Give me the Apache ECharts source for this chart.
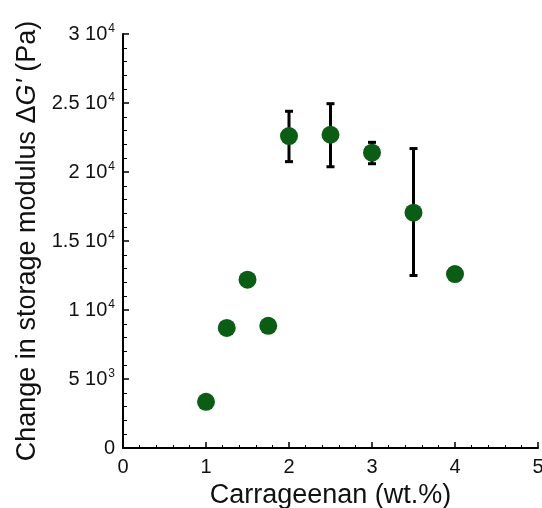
<!DOCTYPE html>
<html>
<head>
<meta charset="utf-8">
<script src="https://cdn.jsdelivr.net/npm/echarts@6/dist/echarts.min.js"></script>
<style>
  html, body { margin: 0; padding: 0; background: #fff; }
  #chart { width: 542px; height: 508px; }
</style>
</head>
<body>
<div id="chart"></div>
<script>
// carrageenan concentration (wt.%) and change in storage modulus (Pa)
const carrageenan = [1, 1.25, 1.5, 1.75, 2, 2.5, 3, 3.5, 4];
const deltaG = [3350, 8700, 12200, 8850, 22600, 22700, 21400, 17050, 12600];
// error bars — only some points have them
const errLow = [null, null, null, null, 20750, 20380, 20600, 12500, null];
const errHigh = [null, null, null, null, 24400, 24950, 22150, 21700, null];

const GREEN = "#0a5e14";
const FONT = "Liberation Sans, Arial, sans-serif";

const points = carrageenan.map((x, i) => [x, deltaG[i]]);
const errData = [];
carrageenan.forEach((x, i) => {
  if (errLow[i] != null) errData.push([x, errLow[i], errHigh[i]]);
});

const yLabels = {
  0: "{n|0}",
  5000: "{n|5 10}{s|3}",
  10000: "{n|1 10}{s|4}",
  15000: "{n|1.5 10}{s|4}",
  20000: "{n|2 10}{s|4}",
  25000: "{n|2.5 10}{s|4}",
  30000: "{n|3 10}{s|4}",
};

const chart = echarts.init(document.getElementById("chart"));
chart.setOption({
  animation: false,
  grid: { left: 123, right: 4, top: 34, bottom: 60, outerBoundsMode: "none", containLabel: false },
  xAxis: {
    type: "value",
    min: 0,
    max: 5,
    interval: 1,
    name: "Carrageenan (wt.%)",
    nameLocation: "middle",
    nameGap: 34,
    nameTextStyle: { fontFamily: FONT, fontSize: 27, color: "#111" },
    axisLine: { show: true, lineStyle: { color: "#000", width: 2 } },
    axisTick: { show: true, inside: true, length: 6, lineStyle: { color: "#000", width: 1.5 } },
    minorTick: { show: true, splitNumber: 5, length: 3, lineStyle: { color: "#000", width: 1 } },
    axisLabel: { fontFamily: FONT, fontSize: 20, color: "#111", margin: 9 },
    splitLine: { show: false },
  },
  yAxis: {
    type: "value",
    min: 0,
    max: 30000,
    interval: 5000,
    name: "{a|Change in storage modulus Δ}{i|G'}{a| (Pa)}",
    nameLocation: "middle",
    nameGap: 77,
    nameTextStyle: {
      rich: {
        a: { fontFamily: FONT, fontSize: 27, color: "#111" },
        i: { fontFamily: FONT, fontSize: 27, color: "#111", fontStyle: "italic" },
      },
    },
    axisLine: { show: true, lineStyle: { color: "#000", width: 2 } },
    axisTick: { show: true, inside: true, length: 6, lineStyle: { color: "#000", width: 1.5 } },
    minorTick: { show: true, splitNumber: 5, length: 4, lineStyle: { color: "#000", width: 1 } },
    axisLabel: {
      margin: 8,
      formatter: (v) => yLabels[v] || "",
      rich: {
        n: { fontFamily: FONT, fontSize: 20, color: "#111" },
        s: { fontFamily: FONT, fontSize: 12, color: "#111", padding: [0, 0, 11, 1] },
      },
    },
    splitLine: { show: false },
  },
  series: [
    {
      type: "custom",
      z: 1,
      data: errData,
      renderItem: (params, api) => {
        const x = api.value(0);
        const lo = api.coord([x, api.value(1)]);
        const hi = api.coord([x, api.value(2)]);
        const cap = 4;
        const style = { stroke: "#000", lineWidth: 3 };
        return {
          type: "group",
          children: [
            { type: "line", shape: { x1: lo[0], y1: lo[1], x2: hi[0], y2: hi[1] }, style },
            { type: "line", shape: { x1: hi[0] - cap, y1: hi[1], x2: hi[0] + cap, y2: hi[1] }, style },
            { type: "line", shape: { x1: lo[0] - cap, y1: lo[1], x2: lo[0] + cap, y2: lo[1] }, style },
          ],
        };
      },
    },
    {
      type: "scatter",
      z: 2,
      data: points,
      symbol: "circle",
      symbolSize: 18,
      itemStyle: { color: GREEN, opacity: 1 },
    },
  ],
});
</script>
</body>
</html>
